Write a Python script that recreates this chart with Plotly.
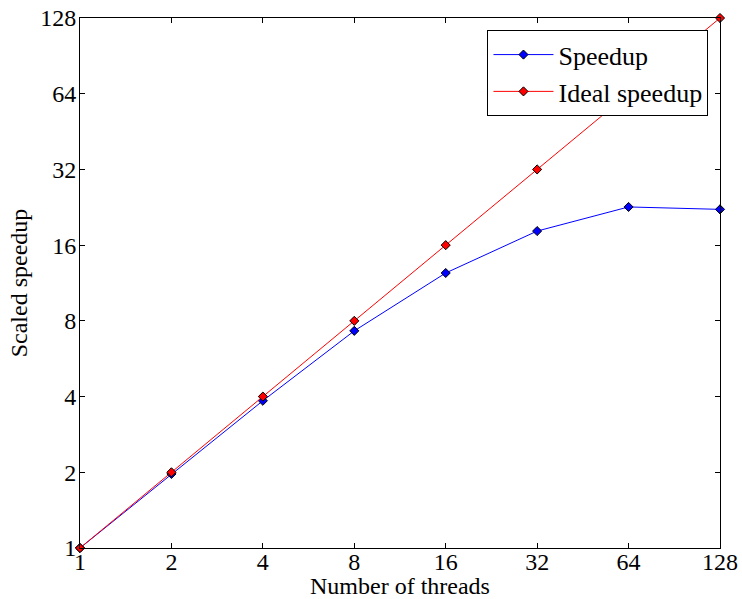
import plotly.graph_objects as go
import math

threads = [1, 2, 4, 8, 16, 32, 64, 128]
speedup = [1.0, 1.97, 3.85, 7.3, 12.4, 18.2, 22.7, 22.2]
ideal = [1, 2, 4, 8, 16, 32, 64, 128]
tick_vals = [1, 2, 4, 8, 16, 32, 64, 128]
tick_text = ["1", "2", "4", "8", "16", "32", "64", "128"]

FONT = "Liberation Serif"
FS = 24

fig = go.Figure()
fig.add_trace(go.Scatter(
    x=threads, y=speedup, mode="lines+markers", name="Speedup",
    legendgroup="a",
    line=dict(color="#0000ff", width=1),
    marker=dict(symbol="diamond", size=7, color="#0000ff", line=dict(color="black", width=1)),
    cliponaxis=False,
))
fig.add_trace(go.Scatter(
    x=threads, y=ideal, mode="lines+markers", name="Ideal speedup",
    legendgroup="b",
    line=dict(color="#ff0000", width=1),
    marker=dict(symbol="diamond", size=7, color="#ff0000", line=dict(color="black", width=1)),
    cliponaxis=False,
))

axis_common = dict(
    type="log", tickvals=tick_vals, ticktext=tick_text,
    range=[0, math.log10(128)],
    showgrid=False, zeroline=False,
    showline=True, linecolor="black", linewidth=1, mirror="allticks",
    ticks="inside", ticklen=5, tickcolor="black",
    tickfont=dict(family=FONT, size=FS, color="black"),
    automargin=False,
)

fig.update_layout(
    width=742, height=599,
    margin=dict(l=80, r=22, t=18, b=51),
    paper_bgcolor="white", plot_bgcolor="white",
    font=dict(family=FONT, size=FS, color="black"),
    showlegend=True,
    legend=dict(
        x=0.982, y=0.977, xanchor="right", yanchor="top",
        bordercolor="black", borderwidth=1, bgcolor="white",
        font=dict(family=FONT, size=26, color="black"),
        itemwidth=60, tracegroupgap=0,
    ),
    xaxis=dict(axis_common, ticklabelstandoff=-8,
               title=dict(text="Number of threads", standoff=0,
                          font=dict(family=FONT, size=FS))),
    yaxis=dict(axis_common, ticklabelstandoff=-2,
               title=dict(text="Scaled speedup", standoff=5,
                          font=dict(family=FONT, size=FS))),
)

fig.write_html("out.html")
